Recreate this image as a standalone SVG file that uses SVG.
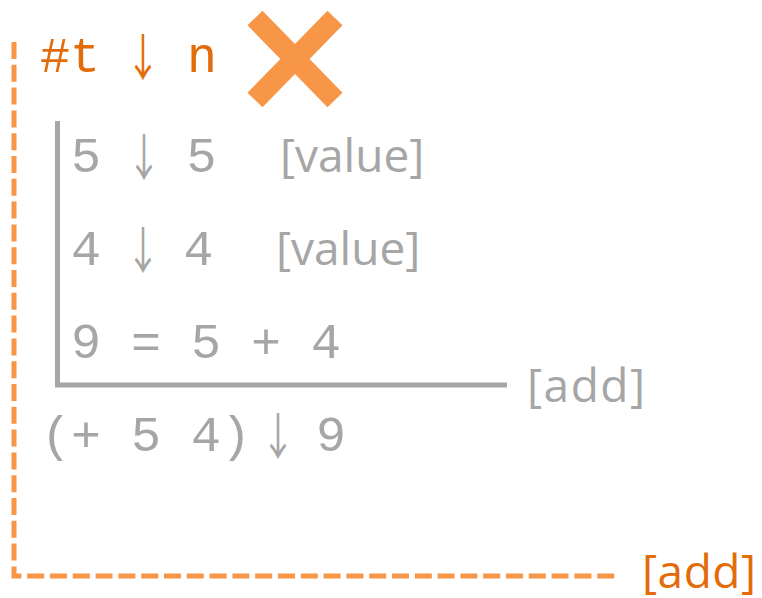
<svg xmlns="http://www.w3.org/2000/svg" width="762" height="598" viewBox="0 0 762 598">
<style>
.mono{font-family:"Liberation Mono","DejaVu Sans Mono",monospace;font-size:50px}
.arr{font-family:"Noto Sans CJK JP","Liberation Sans",sans-serif;font-size:50px}
.sans{font-family:"Open Sans","DejaVu Sans",sans-serif;font-size:46px}
.gray{fill:#a6a6a6}
.org{fill:#e36c0a}
</style>
<rect width="762" height="598" fill="#ffffff"/>
<g id="connectors" fill="none">
<path d="M14 42 V576 H618" stroke="#f79646" stroke-width="5" stroke-dasharray="17 5.8"/>
<path d="M57.5 121 V385 H507" stroke="#a6a6a6" stroke-width="5"/>
</g>
<g id="head">
<text class="mono org" y="72" text-anchor="middle"><tspan x="70">#t</tspan><tspan x="202">n</tspan></text>
<text class="arr org" transform="translate(143,76) scale(0.7,1)" text-anchor="middle">↓</text>
<g id="cross" stroke="#f79646" stroke-width="21">
<line x1="255" y1="18" x2="335" y2="100"/>
<line x1="335" y1="18" x2="255" y2="100"/>
</g>
</g>
<g id="value5">
<text class="mono gray" y="172" text-anchor="middle"><tspan x="86">5</tspan><tspan x="201.5">5</tspan></text>
<text class="arr gray" transform="translate(144,176) scale(0.7,1)" text-anchor="middle">↓</text>
<text class="sans gray" x="280" y="172">[value]</text>
</g>
<g id="value4">
<text class="mono gray" y="265" text-anchor="middle"><tspan x="86">4</tspan><tspan x="198.5">4</tspan></text>
<text class="arr gray" transform="translate(143,269) scale(0.7,1)" text-anchor="middle">↓</text>
<text class="sans gray" x="276" y="265">[value]</text>
</g>
<g id="sum">
<text class="mono gray" x="71" y="358" xml:space="preserve">9 = 5 + 4</text>
<text class="sans gray" x="527" y="402" textLength="118">[add]</text>
</g>
<g id="result">
<text class="mono gray" x="41" y="451">(+ 5 4)</text>
<text class="arr gray" transform="translate(278,455) scale(0.7,1)" text-anchor="middle">↓</text>
<text class="mono gray" x="331" y="451" text-anchor="middle">9</text>
</g>
<g id="outer">
<text class="sans org" x="642" y="588" textLength="114">[add]</text>
</g>
</svg>
